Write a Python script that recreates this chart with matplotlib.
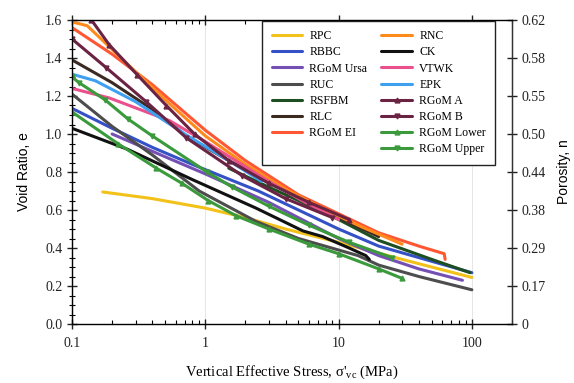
import numpy as np
import matplotlib
matplotlib.use("Agg")
import matplotlib.pyplot as plt
from matplotlib.lines import Line2D
from matplotlib.ticker import FixedLocator, NullFormatter, MultipleLocator

plt.rcParams['font.family'] = ['Liberation Serif', 'DejaVu Serif']
plt.rcParams['mathtext.fontset'] = 'custom'
plt.rcParams['mathtext.rm'] = 'Liberation Serif'

# compression curves: vertical effective stress (MPa) vs void ratio
rpc_s = [0.17, 0.4, 1, 2, 4, 10, 30, 100]
rpc_e = [0.695, 0.66, 0.61, 0.56, 0.50, 0.43, 0.34, 0.245]

rbbc_s = [0.1, 0.2, 0.4, 0.8, 2.5, 5, 10, 20, 50, 100]
rbbc_e = [1.135, 1.03, 0.93, 0.84, 0.70, 0.60, 0.50, 0.41, 0.33, 0.27]

ursa_s = [0.2, 0.5, 1, 3, 10, 20, 40, 85]
ursa_e = [1.0, 0.88, 0.79, 0.64, 0.45, 0.36, 0.29, 0.23]

ruc_s = [0.1, 0.2, 0.4, 0.9, 2.4, 5, 14, 20, 40, 100]
ruc_e = [1.21, 1.04, 0.89, 0.70, 0.54, 0.45, 0.36, 0.31, 0.25, 0.18]

rsfbm_s = [1.5, 3, 5, 10, 20, 50, 97]
rsfbm_e = [0.82, 0.72, 0.65, 0.55, 0.44, 0.34, 0.27]

rlc_s = [0.1, 0.2, 0.4, 0.72, 1.5, 3, 6, 10, 20]
rlc_e = [1.39, 1.27, 1.13, 0.99, 0.86, 0.75, 0.64, 0.56, 0.46]

ei_s = [0.1, 0.2, 0.4, 1, 2, 5, 10, 20, 40, 62, 63]
ei_e = [1.56, 1.42, 1.26, 1.02, 0.86, 0.68, 0.58, 0.48, 0.41, 0.37, 0.34]

rnc_s = [0.1, 0.13, 0.25, 0.5, 1, 2, 4, 8, 15, 30]
rnc_e = [1.59, 1.57, 1.38, 1.18, 0.99, 0.84, 0.71, 0.60, 0.51, 0.42]

ck_s = [0.1, 0.26, 0.8, 2.4, 5.4, 7.6, 12, 16, 17]
ck_e = [1.03, 0.92, 0.76, 0.61, 0.49, 0.46, 0.40, 0.36, 0.34]

vtwk_s = [0.1, 0.19, 0.54, 1, 3, 5.3, 10]
vtwk_e = [1.24, 1.19, 1.07, 0.96, 0.75, 0.65, 0.55]

epk_s = [0.1, 0.15, 0.3, 0.7, 1.5, 2.65]
epk_e = [1.315, 1.28, 1.17, 1.0, 0.86, 0.75]

gom_a_s = [0.14, 0.19, 0.31, 0.51, 0.83, 1.5, 3, 6, 12]
gom_a_e = [1.6, 1.47, 1.31, 1.15, 1.0, 0.86, 0.74, 0.64, 0.55]

gom_b_s = [0.1, 0.18, 0.36, 0.72, 1.9, 4, 9]
gom_b_e = [1.5, 1.35, 1.17, 0.98, 0.78, 0.66, 0.56]

gom_lo_s = [0.1, 0.22, 0.43, 0.67, 1.05, 1.7, 3, 6, 10, 20, 30]
gom_lo_e = [1.116, 0.95, 0.82, 0.74, 0.65, 0.57, 0.50, 0.42, 0.37, 0.29, 0.24]

gom_up_s = [0.1, 0.113, 0.177, 0.262, 0.40, 1.03, 1.6, 3, 6, 12, 25]
gom_up_e = [1.30, 1.27, 1.18, 1.08, 0.99, 0.80, 0.72, 0.62, 0.52, 0.43, 0.35]

e_ticks = [0, 0.2, 0.4, 0.6, 0.8, 1.0, 1.2, 1.4, 1.6]
n_labels = ['0', '0.17', '0.29', '0.38', '0.44', '0.50', '0.55', '0.58', '0.62']

# (label, stress, void ratio, colour, marker)
col1 = [
    ('RPC', rpc_s, rpc_e, '#f2c21b', None),
    ('RBBC', rbbc_s, rbbc_e, '#3451c6', None),
    ('RGoM Ursa', ursa_s, ursa_e, '#7550b4', None),
    ('RUC', ruc_s, ruc_e, '#4d4d4d', None),
    ('RSFBM', rsfbm_s, rsfbm_e, '#1d4f22', None),
    ('RLC', rlc_s, rlc_e, '#3b2a22', None),
    ('RGoM EI', ei_s, ei_e, '#ff5733', None),
]
col2 = [
    ('RNC', rnc_s, rnc_e, '#ff8a1c', None),
    ('CK', ck_s, ck_e, '#111111', None),
    ('VTWK', vtwk_s, vtwk_e, '#e9508c', None),
    ('EPK', epk_s, epk_e, '#3fa0f0', None),
    ('RGoM A', gom_a_s, gom_a_e, '#6b2343', '^'),
    ('RGoM B', gom_b_s, gom_b_e, '#6b2343', 'v'),
    ('RGoM Lower', gom_lo_s, gom_lo_e, '#3a9a3c', '^'),
    ('RGoM Upper', gom_up_s, gom_up_e, '#3a9a3c', 'v'),
]

fig = plt.figure(figsize=(5.74, 3.83), dpi=100)
ax = fig.add_axes([72 / 574, 59 / 383, 440 / 574, 304 / 383])

handles = []
for name, s, e, c, m in col1 + col2:
    h, = ax.plot(s, e, color=c, lw=2.2, marker=m, markersize=3.5,
                 label=name, solid_capstyle='round')
    handles.append(h)

ax.set_xscale('log')
ax.set_xlim(0.1, 200)
ax.set_ylim(0, 1.6)
ax.set_xticks([0.1, 1, 10, 100])
ax.set_xticklabels(['0.1', '1', '10', '100'])
ax.xaxis.set_minor_formatter(NullFormatter())
ax.yaxis.set_major_locator(FixedLocator(e_ticks))
ax.yaxis.set_major_formatter(plt.FuncFormatter(lambda v, p: f'{v:.1f}'))
ax.yaxis.set_minor_locator(MultipleLocator(0.05))
ax.grid(axis='x', which='major', color='#e6e6e6', lw=0.7)

ax.tick_params(which='major', direction='inout', length=7, width=1,
               labelsize=10, colors='#222222', top=True)
ax.tick_params(axis='x', which='minor', direction='in', length=3, width=0.8, top=True)
ax.tick_params(axis='y', which='minor', direction='inout', length=4, width=0.8)
ax.tick_params(axis='x', which='major', pad=6)
for sp in ax.spines.values():
    sp.set_color('#333333')
    sp.set_linewidth(1)

ax.set_xlabel(r"Vertical Effective Stress, σ'$_{\rm vc}$ (MPa)", fontsize=10.5,
              labelpad=10)
ax.set_ylabel('Void Ratio, e', fontsize=10, family=['Liberation Sans', 'DejaVu Sans'],
              labelpad=10)

# porosity scale on the right, same tick positions as void ratio
ax2 = ax.twinx()
ax2.set_ylim(0, 1.6)
ax2.set_yticks(e_ticks)
ax2.set_yticklabels(n_labels)
ax2.tick_params(direction='inout', length=7, width=1, labelsize=10, colors='#222222')
ax2.spines['right'].set_color('#333333')
ax2.set_ylabel('Porosity, n', fontsize=10, family=['Liberation Sans', 'DejaVu Sans'],
               labelpad=8)

blank = Line2D([], [], color='none')
leg_handles = handles[:7] + [blank] + handles[7:]
leg_labels = [h.get_label() for h in handles[:7]] + [''] + [h.get_label() for h in handles[7:]]
leg = ax.legend(leg_handles, leg_labels, ncol=2, loc='upper left',
                bbox_to_anchor=(0.432, 0.997), borderaxespad=0,
                fontsize=8.5, numpoints=1,
                handlelength=2.6, columnspacing=1.2, labelspacing=0.35,
                borderpad=0.8, handletextpad=0.6, fancybox=False,
                framealpha=1, edgecolor='#222222')
leg.get_frame().set_linewidth(1.0)

fig.savefig('out.png', dpi=100)
